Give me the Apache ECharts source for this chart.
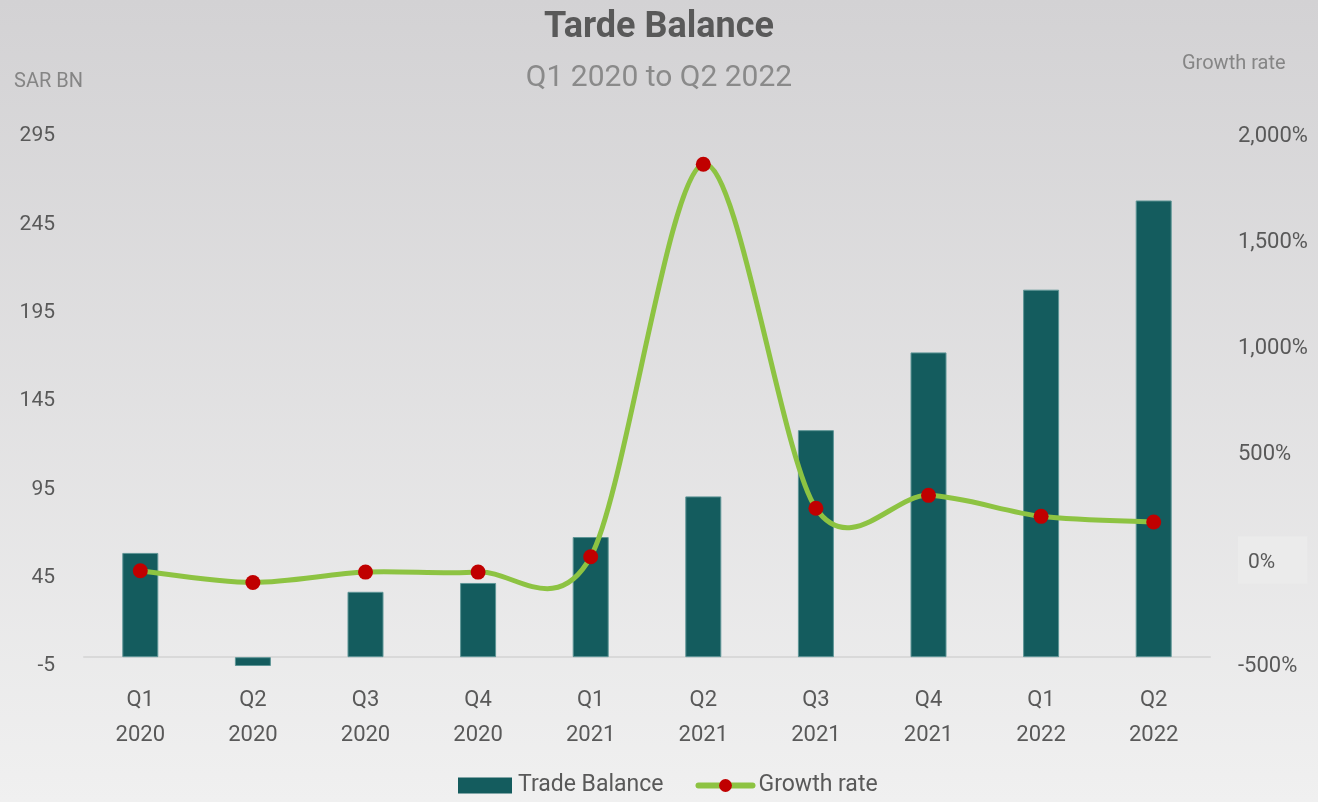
<!DOCTYPE html>
<html>
<head>
<meta charset="utf-8">
<script src="https://cdn.jsdelivr.net/npm/echarts@6/dist/echarts.min.js"></script>
<style>
  html, body { margin: 0; padding: 0; }
  #trade_balance { width: 1318px; height: 802px; }
</style>
</head>
<body>
<div id="trade_balance"></div>
<script>
var quarters = ['Q1\n2020', 'Q2\n2020', 'Q3\n2020', 'Q4\n2020', 'Q1\n2021', 'Q2\n2021', 'Q3\n2021', 'Q4\n2021', 'Q1\n2022', 'Q2\n2022'];
var tradeBalance = [59, -5, 37, 42, 68, 91, 128.5, 172.5, 208, 258.5];
var growthRate = [-51, -106, -57, -57, 15, 1867, 244, 305, 206, 179];

(function() {
    var chart = echarts.init(document.getElementById('trade_balance'));
    var font = 'Roboto';
    var green = '#8dc342';

    // Excel style smoothed line (catmull-rom through the points, on the library's scale)
    function renderCurve(params, api) {
        if (params.dataIndex !== 0) return null;
        var pts = growthRate.map(function(v, i) { return api.coord([i, v]); });
        var d = 'M' + pts[0][0] + ' ' + pts[0][1];
        for (var i = 0; i < pts.length - 1; i++) {
            var p0 = pts[Math.max(i - 1, 0)], p1 = pts[i], p2 = pts[i + 1], p3 = pts[Math.min(i + 2, pts.length - 1)];
            var c1x = p1[0] + (p2[0] - p0[0]) / 6.5, c1y = p1[1] + (p2[1] - p0[1]) / 6.5;
            var c2x = p2[0] - (p3[0] - p1[0]) / 6.5, c2y = p2[1] - (p3[1] - p1[1]) / 6.5;
            d += ' C' + c1x + ' ' + c1y + ' ' + c2x + ' ' + c2y + ' ' + p2[0] + ' ' + p2[1];
        }
        return {
            type: 'path',
            shape: {pathData: d},
            style: {fill: null, stroke: green, lineWidth: 5, lineCap: 'round', lineJoin: 'round'}
        };
    }

    var option = {
        animation: false,
        backgroundColor: {
            type: 'linear', x: 0, y: 0, x2: 0, y2: 1,
            colorStops: [
                {offset: 0, color: '#d3d2d4'},
                {offset: 1, color: '#f0f0f0'}
            ]
        },
        textStyle: {fontFamily: font},
        title: [
            {
                text: 'Tarde Balance',
                left: 'center',
                top: 5,
                textStyle: {fontSize: 36, fontWeight: 'bold', color: '#595959', fontFamily: font}
            },
            {
                text: 'Q1 2020 to Q2 2022',
                left: 'center',
                top: 58,
                textStyle: {fontSize: 30, fontWeight: 'normal', color: '#8a8a8a', fontFamily: font}
            },
            {
                text: 'SAR BN',
                left: 9,
                top: 67,
                textStyle: {fontSize: 20, fontWeight: 'normal', color: '#858585', fontFamily: font}
            },
            {
                text: 'Growth rate',
                left: 1177,
                top: 49,
                textStyle: {fontSize: 20, fontWeight: 'normal', color: '#858585', fontFamily: font}
            }
        ],
        legend: {
            bottom: 0,
            left: 453,
            itemGap: 32,
            itemWidth: 54,
            itemHeight: 16,
            textStyle: {fontSize: 23, color: '#595959', padding: [0, 0, 0, 1]},
            data: [
                {name: 'Trade Balance', icon: 'rect', itemStyle: {borderWidth: 0}},
                {name: 'Growth rate', lineStyle: {color: green, width: 6, opacity: 1, cap: 'round'}}
            ]
        },
        grid: {left: 84, right: 108, top: 136, bottom: 136},
        xAxis: {
            type: 'category',
            data: quarters,
            axisLine: {onZero: true, lineStyle: {color: '#d9d9d9', width: 2}},
            axisTick: {show: false},
            axisLabel: {fontSize: 22, color: '#595959', lineHeight: 35, margin: 17}
        },
        yAxis: [
            {
                type: 'value',
                min: -5,
                max: 295,
                interval: 50,
                splitLine: {show: false},
                axisLine: {show: false},
                axisTick: {show: false},
                axisLabel: {fontSize: 21, color: '#595959', margin: 29}
            },
            {
                type: 'value',
                min: -500,
                max: 2000,
                interval: 500,
                splitLine: {show: false},
                axisLine: {show: false},
                axisTick: {show: false},
                axisLabel: {
                    fontSize: 22,
                    color: '#595959',
                    margin: 28,
                    formatter: function(v) {
                        var s = v.toLocaleString('en-US') + '%';
                        return v === 0 ? '{z|' + s + '}' : s;
                    },
                    rich: {
                        z: {
                            fontSize: 21,
                            color: '#595959',
                            backgroundColor: '#ebebeb',
                            padding: [16, 32, 10, 10]
                        }
                    }
                }
            }
        ],
        series: [
            {
                name: 'Trade Balance',
                type: 'bar',
                yAxisIndex: 0,
                barWidth: 36,
                itemStyle: {color: '#145c5e', borderColor: '#5e9596', borderWidth: 1},
                data: tradeBalance
            },
            {
                name: 'Growth curve',
                type: 'custom',
                yAxisIndex: 1,
                z: 3,
                renderItem: renderCurve,
                data: growthRate.map(function(v, i) { return [i, v]; })
            },
            {
                name: 'Growth rate',
                type: 'line',
                yAxisIndex: 1,
                z: 4,
                symbol: 'circle',
                symbolSize: 15,
                lineStyle: {color: green, width: 5, opacity: 0},
                itemStyle: {color: '#c00000'},
                data: growthRate
            }
        ]
    };
    chart.setOption(option);
})();
</script>
</body>
</html>
